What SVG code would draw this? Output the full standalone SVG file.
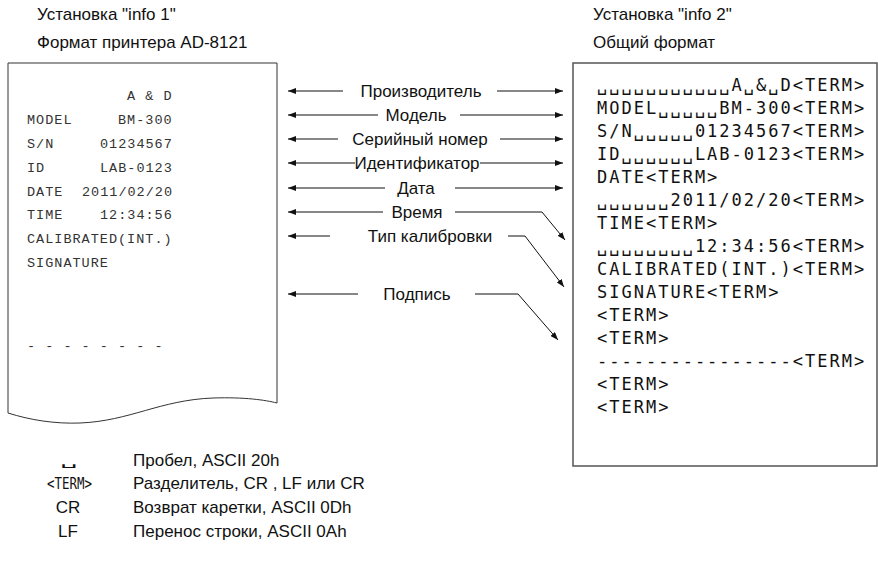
<svg xmlns="http://www.w3.org/2000/svg" width="878" height="563" viewBox="0 0 878 563">
<style>
.t{font-family:"Liberation Sans",Arial,sans-serif;font-size:17px;fill:#111}
.m{text-anchor:middle}
.pl{font-family:"Liberation Mono","Courier New",monospace;font-size:13.5px;letter-spacing:1px;fill:#333}
.pr{font-family:"DejaVu Sans Mono",monospace;font-size:17px;letter-spacing:2px;fill:#111}
.ln{fill:none;stroke:#111;stroke-width:1;marker-end:url(#ah)}
</style>
<defs>
<marker id="ah" markerUnits="userSpaceOnUse" markerWidth="8" markerHeight="6" refX="8" refY="3" orient="auto">
<path d="M0,0 L8,3 L0,6 z" fill="#111"/>
</marker>
</defs>
<rect width="878" height="563" fill="#fff"/>
<g id="title1">
<text class="t" x="37" y="20">Установка "info 1"</text>
<text class="t" x="37" y="48">Формат принтера AD-8121</text>
</g>
<g id="title2">
<text class="t" x="593" y="20">Установка "info 2"</text>
<text class="t" x="593" y="48">Общий формат</text>
</g>
<g id="printout">
<path d="M8,63 H277 V403 C265,400 245,397 213,398 C160,400 130,421 80,423 C55,424 30,420 8,413 Z" fill="#fff" stroke="#333" stroke-width="1"/>
<text class="pl" x="127" y="100">A &amp; D</text>
<text class="pl" x="27" y="124">MODEL</text><text class="pl" x="118" y="124">BM-300</text>
<text class="pl" x="27" y="148">S/N</text><text class="pl" x="100" y="148">01234567</text>
<text class="pl" x="27" y="172">ID</text><text class="pl" x="100" y="172">LAB-0123</text>
<text class="pl" x="27" y="196">DATE</text><text class="pl" x="82" y="196">2011/02/20</text>
<text class="pl" x="27" y="219">TIME</text><text class="pl" x="100" y="219">12:34:56</text>
<text class="pl" x="27" y="243">CALIBRATED(INT.)</text>
<text class="pl" x="27" y="267">SIGNATURE</text>
<text class="pl" x="27" y="350" xml:space="preserve">- - - - - - - -</text>
</g>
<g id="general">
<rect x="573" y="63" width="304" height="403" fill="#fff" stroke="#555" stroke-width="1.5"/>
<text class="pr" x="597" y="91">␣␣␣␣␣␣␣␣␣␣␣A␣&amp;␣D&lt;TERM&gt;</text>
<text class="pr" x="597" y="114">MODEL␣␣␣␣␣BM-300&lt;TERM&gt;</text>
<text class="pr" x="597" y="137">S/N␣␣␣␣␣01234567&lt;TERM&gt;</text>
<text class="pr" x="597" y="160">ID␣␣␣␣␣␣LAB-0123&lt;TERM&gt;</text>
<text class="pr" x="597" y="183">DATE&lt;TERM&gt;</text>
<text class="pr" x="597" y="206">␣␣␣␣␣␣2011/02/20&lt;TERM&gt;</text>
<text class="pr" x="597" y="229">TIME&lt;TERM&gt;</text>
<text class="pr" x="597" y="252">␣␣␣␣␣␣␣␣12:34:56&lt;TERM&gt;</text>
<text class="pr" x="597" y="275">CALIBRATED(INT.)&lt;TERM&gt;</text>
<text class="pr" x="597" y="298">SIGNATURE&lt;TERM&gt;</text>
<text class="pr" x="597" y="321">&lt;TERM&gt;</text>
<text class="pr" x="597" y="344">&lt;TERM&gt;</text>
<text class="pr" x="597" y="367">----------------&lt;TERM&gt;</text>
<text class="pr" x="597" y="390">&lt;TERM&gt;</text>
<text class="pr" x="597" y="413">&lt;TERM&gt;</text>
</g>
<g id="labels">
<text class="t m" x="421" y="97">Производитель</text>
<text class="t m" x="416" y="121">Модель</text>
<text class="t m" x="420" y="145">Серийный номер</text>
<text class="t m" x="417" y="169">Идентификатор</text>
<text class="t m" x="416" y="194">Дата</text>
<text class="t m" x="417" y="218">Время</text>
<text class="t m" x="430" y="242">Тип калибровки</text>
<text class="t m" x="417" y="300">Подпись</text>
</g>
<g id="connectors">
<path class="ln" d="M343,91 H288"/>
<path class="ln" d="M378,115 H288"/>
<path class="ln" d="M338,139 H288"/>
<path class="ln" d="M355,163 H288"/>
<path class="ln" d="M385,188 H288"/>
<path class="ln" d="M383,212 H288"/>
<path class="ln" d="M330,236 H288"/>
<path class="ln" d="M358,294 H288"/>
<path class="ln" d="M497,91 H563"/>
<path class="ln" d="M460,115 H563"/>
<path class="ln" d="M500,139 H563"/>
<path class="ln" d="M480,163 H563"/>
<path class="ln" d="M455,188 H563"/>
<path class="ln" d="M455,212 H542 L565,240"/>
<path class="ln" d="M508,236 H525 L564,287"/>
<path class="ln" d="M475,294 H518 L558,340"/>
</g>
<g id="legend">
<text x="60" y="465" textLength="18" lengthAdjust="spacingAndGlyphs" style="font-family:'DejaVu Sans Mono',monospace;font-size:12px;fill:#111">␣</text>
<text class="t" x="133" y="466">Пробел, ASCII 20h</text>
<text x="47" y="489" textLength="45" lengthAdjust="spacingAndGlyphs" style="font-family:'DejaVu Sans Mono',monospace;font-size:16px;fill:#111">&lt;TERM&gt;</text>
<text class="t" x="133" y="489">Разделитель, CR , LF или CR</text>
<text class="t m" x="68" y="513">CR</text>
<text class="t" x="133" y="513">Возврат каретки, ASCII 0Dh</text>
<text class="t m" x="68" y="537">LF</text>
<text class="t" x="133" y="537">Перенос строки, ASCII 0Ah</text>
</g>
</svg>
